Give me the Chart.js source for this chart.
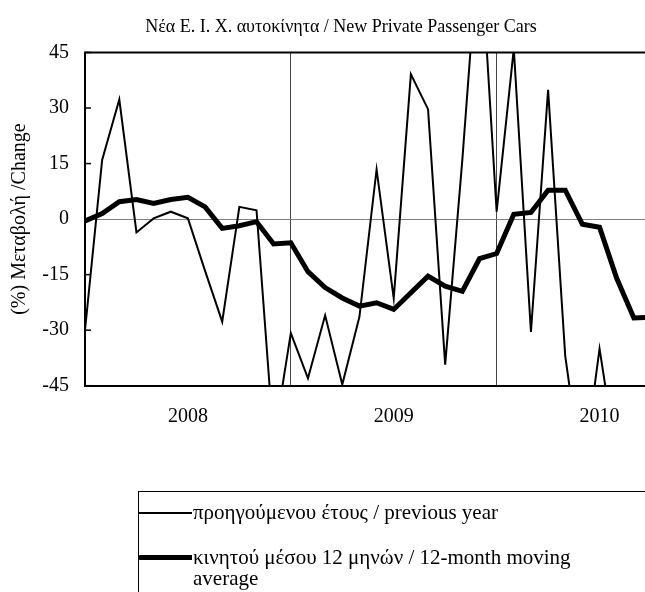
<!DOCTYPE html>
<html>
<head>
<meta charset="utf-8">
<script src="https://cdn.jsdelivr.net/npm/chart.js@4.4.0/dist/chart.umd.min.js"></script>
<style>
  body { margin: 0; background: #fff; }
  #wrap { position: relative; width: 645px; height: 592px; overflow: hidden; font-family: "Liberation Serif", serif; color: #000; }
  #chart { position: absolute; left: 0; top: 0; }
  #legend { position: absolute; left: 138px; top: 491px; width: 520px; height: 120px; border-top: 1px solid #000; border-left: 1px solid #000; }
  .sample { position: absolute; left: -1px; width: 54px; background: #000; }
  .txt { position: absolute; left: 54px; font-size: 21px; line-height: 21px; white-space: nowrap; }
</style>
</head>
<body>
<div id="wrap">
  <canvas id="chart" width="645" height="592"></canvas>
  <div id="legend">
    <div class="sample" style="top:20px;height:2px;"></div>
    <div class="txt" style="top:10px;">προηγούμενου έτους / previous year</div>
    <div class="sample" style="top:63px;height:5px;border-radius:3px 0 0 3px;"></div>
    <div class="txt" style="top:55px;">κινητού μέσου 12 μηνών / 12-month moving<br>average</div>
  </div>
</div>
<script>
// monthly data, Jan 2008 - Oct 2010
var months = ['2008-01','2008-02','2008-03','2008-04','2008-05','2008-06','2008-07','2008-08','2008-09','2008-10','2008-11','2008-12',
              '2009-01','2009-02','2009-03','2009-04','2009-05','2009-06','2009-07','2009-08','2009-09','2009-10','2009-11','2009-12',
              '2010-01','2010-02','2010-03','2010-04','2010-05','2010-06','2010-07','2010-08','2010-09','2010-10'];

// % change vs previous year
var prevYear = [-30, 16, 32.3, -3.6, 0.2, 2.0, 0.2, -14, -27.7, 3.3, 2.4, -60,
                -30.8, -43, -26, -44.7, -26.4, 13.4, -21.4, 39.1, 29.7, -39.3, 16, 78,
                2.0, 46, -30.5, 34.9, -37, -70, -35, -65, -60, -55];

// 12-month moving average
var movingAvg = [-0.5, 1.5, 4.7, 5.3, 4.2, 5.3, 5.9, 3.3, -2.5, -1.8, -0.7, -6.7,
                 -6.4, -14.2, -18.5, -21.3, -23.5, -22.6, -24.4, -19.9, -15.4, -18.1, -19.5, -10.7,
                 -9.3, 1.3, 1.8, 7.8, 7.8, -1.4, -2.2, -16.0, -26.7, -26.5];

var yearLabels = ['2008', '2009', '2010'];
var yearLabelPos = [6, 18, 30];
var yearLinePos = [12, 24];
var yTicks = [-45, -30, -15, 0, 15, 30, 45];
var chartTitle = 'Νέα Ε. Ι. Χ. αυτοκίνητα / New Private Passenger Cars';

function toPoints(values) {
  return values.map((v, i) => ({ x: i, y: v }));
}

var serif = 'Liberation Serif';

// title (the original chart is wider, so it sits right of centre),
// top frame line and inside tick marks on the y axis
var framePlugin = {
  id: 'frame',
  afterDraw(chart) {
    var ctx = chart.ctx;
    var area = chart.chartArea;
    var y = chart.scales.y;
    ctx.save();
    ctx.fillStyle = '#000';
    ctx.font = '18px "Liberation Serif"';
    ctx.textAlign = 'center';
    ctx.textBaseline = 'middle';
    ctx.fillText(chartTitle, 341, 27);

    ctx.strokeStyle = '#000';
    ctx.lineWidth = 2;
    ctx.beginPath();
    ctx.moveTo(area.left - 1, area.top);
    ctx.lineTo(area.right, area.top);
    ctx.stroke();
    ctx.lineWidth = 1.5;
    yTicks.forEach(v => {
      var py = y.getPixelForValue(v);
      ctx.beginPath();
      ctx.moveTo(area.left, py);
      ctx.lineTo(area.left + 6, py);
      ctx.stroke();
    });
    ctx.restore();
  }
};

var ctx = document.getElementById('chart').getContext('2d');
var myChart = new Chart(ctx, {
  type: 'line',
  data: {
    datasets: [{
      label: 'προηγούμενου έτους / previous year',
      data: toPoints(prevYear),
      borderColor: '#000',
      borderWidth: 2,
      pointRadius: 0,
      tension: 0,
      clip: 0
    }, {
      label: 'κινητού μέσου 12 μηνών / 12-month moving average',
      data: toPoints(movingAvg),
      borderColor: '#000',
      borderWidth: 5,
      pointRadius: 0,
      tension: 0,
      clip: 0
    }]
  },
  options: {
    responsive: false,
    animation: false,
    layout: { padding: { top: 52.5, left: 0, right: 0, bottom: 0 } },
    plugins: {
      legend: { display: false },
      tooltip: { enabled: false },
      title: { display: false }
    },
    scales: {
      x: {
        type: 'linear',
        min: 0,
        max: 32.65,
        afterFit(scale) { scale.height = 206.3; },
        afterBuildTicks(scale) {
          scale.ticks = yearLabelPos.concat(yearLinePos).sort((a, b) => a - b).map(v => ({ value: v }));
        },
        ticks: {
          autoSkip: false,
          maxRotation: 0,
          padding: 19,
          color: '#000',
          font: { family: serif, size: 20 },
          callback(value) {
            var i = yearLabelPos.indexOf(value);
            return i >= 0 ? yearLabels[i] : '';
          }
        },
        grid: {
          drawTicks: false,
          lineWidth: 1,
          color: c => (c.tick && yearLinePos.indexOf(c.tick.value) >= 0) ? '#444' : 'rgba(0,0,0,0)'
        },
        border: { display: true, color: '#000', width: 2 }
      },
      y: {
        min: -45,
        max: 45,
        afterFit(scale) { scale.width = 85; },
        afterBuildTicks(scale) {
          scale.ticks = yTicks.map(v => ({ value: v }));
        },
        ticks: {
          padding: 16,
          color: '#000',
          font: { family: serif, size: 20 }
        },
        grid: {
          drawTicks: false,
          lineWidth: 1,
          color: c => (c.tick && c.tick.value === 0) ? '#808080' : 'rgba(0,0,0,0)'
        },
        border: { display: true, color: '#000', width: 2 },
        title: {
          display: true,
          text: '(%) Μεταβολή /Change',
          color: '#000',
          font: { family: serif, size: 20 },
          padding: { top: 8, bottom: 0 }
        }
      }
    }
  },
  plugins: [framePlugin]
});
</script>
</body>
</html>
